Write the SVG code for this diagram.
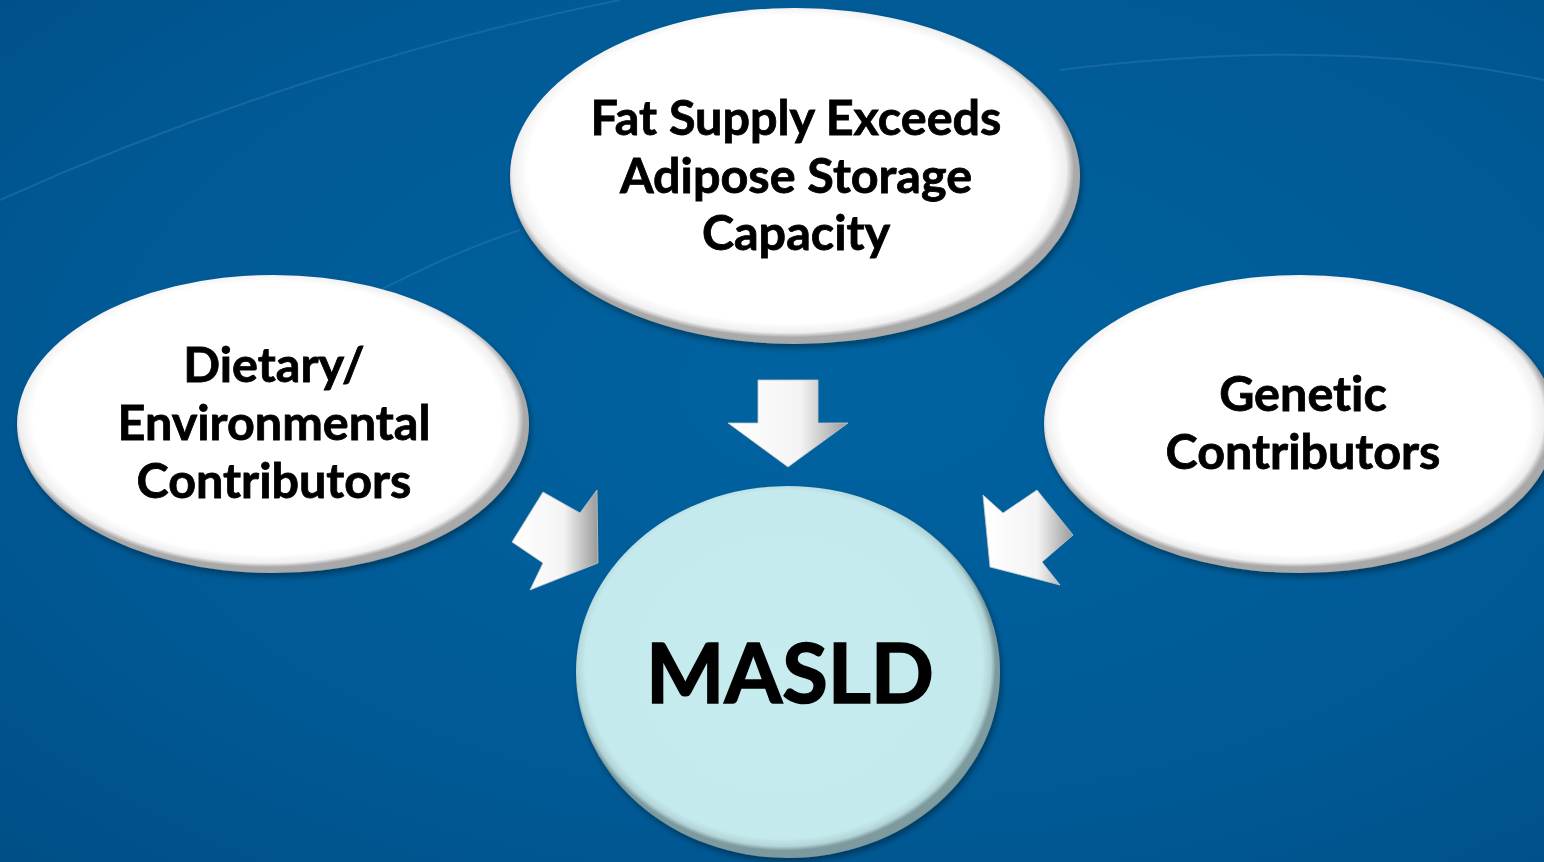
<svg xmlns="http://www.w3.org/2000/svg" width="1544" height="862" viewBox="0 0 1544 862">
<defs>
<radialGradient id="bg" cx="0.55" cy="0.45" r="0.8">
<stop offset="0" stop-color="#0063a0"/>
<stop offset="0.6" stop-color="#005a96"/>
<stop offset="1" stop-color="#004e86"/>
</radialGradient>
<radialGradient id="wfill" cx="0.49" cy="0.48" r="0.52">
<stop offset="0" stop-color="#ffffff"/>
<stop offset="0.88" stop-color="#ffffff"/>
<stop offset="0.935" stop-color="#efefef"/>
<stop offset="0.962" stop-color="#a9a9a9"/>
</radialGradient>
<radialGradient id="cfill" cx="0.49" cy="0.48" r="0.52">
<stop offset="0" stop-color="#c6ecef"/>
<stop offset="0.9" stop-color="#c4eaed"/>
<stop offset="0.94" stop-color="#b2d4d7"/>
<stop offset="0.962" stop-color="#7d9a9e"/>
</radialGradient>
<linearGradient id="arr" x1="0" y1="0" x2="1" y2="0">
<stop offset="0" stop-color="#ffffff"/>
<stop offset="0.6" stop-color="#f4f4f4"/>
<stop offset="1" stop-color="#9a9a9a"/>
</linearGradient>
<filter id="sh" x="-10%" y="-10%" width="120%" height="125%">
<feGaussianBlur in="SourceAlpha" stdDeviation="3"/>
<feOffset dx="2" dy="4"/>
<feComponentTransfer><feFuncA type="linear" slope="0.35"/></feComponentTransfer>
<feMerge><feMergeNode/><feMergeNode in="SourceGraphic"/></feMerge>
</filter>
<style>
.t{font-family:"Lato","Open Sans","Liberation Sans",sans-serif;font-weight:700;fill:#000;stroke:#000;text-anchor:middle;font-variant-ligatures:none;font-feature-settings:"liga" 0,"dlig" 0;}
.n{font-size:48.5px;stroke-width:0.8px;}
.m{font-size:83px;stroke-width:1.6px;}
.ell{fill:url(#wfill);filter:url(#sh);}
.a{fill:url(#arr);stroke:#c8c8c8;stroke-width:0.8;}
.hl{fill:none;stroke:#2a78b0;stroke-width:2;opacity:0.5;}
</style>
</defs>
<rect width="1544" height="862" fill="url(#bg)"/>
<path class="hl" d="M0,200 C200,110 420,40 620,0"/>
<path class="hl" d="M360,300 C420,270 460,250 520,230" opacity="0.3"/>
<path class="hl" d="M1060,70 C1300,40 1450,60 1544,80" opacity="0.3"/>

<g id="node-top">
<ellipse class="ell" cx="795" cy="176" rx="285" ry="168"/>
<text class="t n" x="796" y="135">Fat Supply Exceeds</text>
<text class="t n" x="796" y="193">Adipose Storage</text>
<text class="t n" x="796" y="250">Capacity</text>
</g>
<g id="node-left">
<ellipse class="ell" cx="273" cy="424" rx="256" ry="149"/>
<text class="t n" x="274" y="382">Dietary/</text>
<text class="t n" x="274" y="440">Environmental</text>
<text class="t n" x="274" y="498">Contributors</text>
</g>
<g id="node-right">
<ellipse class="ell" cx="1300" cy="424" rx="256" ry="149"/>
<text class="t n" x="1303" y="411">Genetic</text>
<text class="t n" x="1303" y="469">Contributors</text>
</g>
<g id="node-masld">
<ellipse cx="788" cy="672" rx="212" ry="186" fill="url(#cfill)" filter="url(#sh)"/>
<text class="t m" x="790" y="703">MASLD</text>
</g>
<g id="connectors">
<path class="a" d="M758,380 L818,380 L818,423 L848,423 L788,467 L728,423 L758,423 Z"/>
<path class="a" d="M543,492 L580,513 L597,490 L598,563 L530,590 L543,563 L512,542 Z"/>
<path class="a" d="M1037,490 L1003,513 L983,495 L990,567 L1060,585 L1042,562 L1073,535 Z"/>
</g>
</svg>
